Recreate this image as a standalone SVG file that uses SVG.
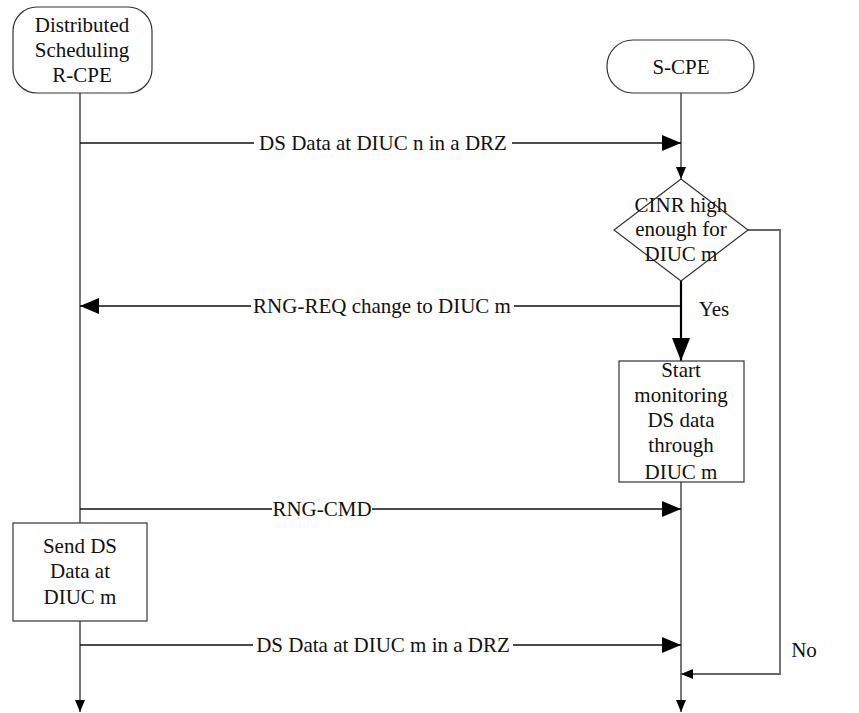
<svg xmlns="http://www.w3.org/2000/svg" width="859" height="713" viewBox="0 0 859 713">
  <defs>
    <marker id="arrow-big" viewBox="0 0 19 16" refX="19" refY="8" markerWidth="19" markerHeight="16" markerUnits="userSpaceOnUse" orient="auto">
      <path d="M0,0 L19,8 L0,16 Z" fill="#000000"/>
    </marker>
    <marker id="arrow-small" viewBox="0 0 12 10" refX="12" refY="5" markerWidth="12" markerHeight="10" markerUnits="userSpaceOnUse" orient="auto">
      <path d="M0,0 L12,5 L0,10 Z" fill="#000000"/>
    </marker>
    <marker id="arrow-yes" viewBox="0 0 23 18" refX="23" refY="9" markerWidth="23" markerHeight="18" markerUnits="userSpaceOnUse" orient="auto">
      <path d="M0,0 L23,9 L0,18 Z" fill="#000000"/>
    </marker>
  </defs>

  <rect width="859" height="713" fill="#ffffff"/>

  <!-- lifelines, messages and flow lines -->
  <g id="connectors" fill="none">
    <!-- lifelines -->
    <g stroke="#555555" stroke-width="1.6">
      <line x1="80" y1="93" x2="80" y2="523"/>
      <line x1="80" y1="621" x2="80" y2="712" marker-end="url(#arrow-small)"/>
      <line x1="681" y1="93" x2="681" y2="179" marker-end="url(#arrow-small)"/>
      <line x1="681" y1="482" x2="681" y2="712" marker-end="url(#arrow-small)"/>
    </g>

    <!-- messages -->
    <g stroke="#111111" stroke-width="1.5">
      <line x1="80" y1="143" x2="681" y2="143" marker-end="url(#arrow-big)"/>
      <line x1="681" y1="306" x2="80" y2="306" marker-end="url(#arrow-big)"/>
      <line x1="80" y1="509" x2="681" y2="509" marker-end="url(#arrow-big)"/>
      <line x1="80" y1="645" x2="681" y2="645" marker-end="url(#arrow-big)"/>
    </g>

    <!-- Yes branch -->
    <line x1="681" y1="281" x2="681" y2="361" stroke="#000000" stroke-width="2.2" marker-end="url(#arrow-yes)"/>

    <!-- No branch -->
    <polyline points="748,230 780,230 780,674 681,674" stroke="#666666" stroke-width="1.8" marker-end="url(#arrow-small)"/>

    <!-- message labels -->
    <g fill="#ffffff" stroke="none">
      <rect x="254" y="132" width="258" height="22"/>
      <rect x="251" y="295" width="263" height="22"/>
      <rect x="272" y="498" width="100" height="22"/>
      <rect x="253" y="634" width="260" height="22"/>
    </g>
    <text x="383" y="150" font-family="Liberation Serif" font-size="21" text-anchor="middle" fill="#111111" style="font-family:'Liberation Serif',serif !important">DS Data at DIUC n in a DRZ</text>
    <text x="382" y="313" font-family="Liberation Serif" font-size="21" text-anchor="middle" fill="#111111" style="font-family:'Liberation Serif',serif !important">RNG-REQ change to DIUC m</text>
    <text x="322" y="516" font-family="Liberation Serif" font-size="21" text-anchor="middle" fill="#111111" style="font-family:'Liberation Serif',serif !important">RNG-CMD</text>
    <text x="383" y="652" font-family="Liberation Serif" font-size="21" text-anchor="middle" fill="#111111" style="font-family:'Liberation Serif',serif !important">DS Data at DIUC m in a DRZ</text>
    <text x="714" y="316" font-family="Liberation Serif" font-size="21" text-anchor="middle" fill="#111111" style="font-family:'Liberation Serif',serif !important">Yes</text>
    <text x="804" y="657" font-family="Liberation Serif" font-size="21" text-anchor="middle" fill="#111111" style="font-family:'Liberation Serif',serif !important">No</text>
  </g>

  <g id="r-cpe">
    <rect x="13" y="7" width="139" height="86" rx="24" ry="24" fill="#ffffff" stroke="#333333" stroke-width="1.2"/>
    <text x="82" y="32" font-family="Liberation Serif" font-size="21" text-anchor="middle" fill="#111111" style="font-family:'Liberation Serif',serif !important">Distributed</text>
    <text x="82" y="57" font-family="Liberation Serif" font-size="21" text-anchor="middle" fill="#111111" style="font-family:'Liberation Serif',serif !important">Scheduling</text>
    <text x="82" y="82" font-family="Liberation Serif" font-size="21" text-anchor="middle" fill="#111111" style="font-family:'Liberation Serif',serif !important">R-CPE</text>
  </g>

  <g id="s-cpe">
    <rect x="607" y="40" width="147" height="53" rx="26" ry="26" fill="#ffffff" stroke="#333333" stroke-width="1.2"/>
    <text x="681" y="74" font-family="Liberation Serif" font-size="21" text-anchor="middle" fill="#111111" style="font-family:'Liberation Serif',serif !important">S-CPE</text>
  </g>

  <g id="cinr-check">
    <polygon points="681,179 748,230 681,281 614,230" fill="#ffffff" stroke="#333333" stroke-width="1.2"/>
    <text x="681" y="212" font-family="Liberation Serif" font-size="21" text-anchor="middle" fill="#111111" style="font-family:'Liberation Serif',serif !important">CINR high</text>
    <text x="681" y="236" font-family="Liberation Serif" font-size="21" text-anchor="middle" fill="#111111" style="font-family:'Liberation Serif',serif !important">enough for</text>
    <text x="681" y="261" font-family="Liberation Serif" font-size="21" text-anchor="middle" fill="#111111" style="font-family:'Liberation Serif',serif !important">DIUC m</text>
  </g>

  <g id="start-monitoring">
    <rect x="619" y="361" width="125" height="121" fill="#ffffff" stroke="#333333" stroke-width="1.2"/>
    <text x="681" y="377" font-family="Liberation Serif" font-size="21" text-anchor="middle" fill="#111111" style="font-family:'Liberation Serif',serif !important">Start</text>
    <text x="681" y="402" font-family="Liberation Serif" font-size="21" text-anchor="middle" fill="#111111" style="font-family:'Liberation Serif',serif !important">monitoring</text>
    <text x="681" y="427" font-family="Liberation Serif" font-size="21" text-anchor="middle" fill="#111111" style="font-family:'Liberation Serif',serif !important">DS data</text>
    <text x="681" y="452" font-family="Liberation Serif" font-size="21" text-anchor="middle" fill="#111111" style="font-family:'Liberation Serif',serif !important">through</text>
    <text x="681" y="479" font-family="Liberation Serif" font-size="21" text-anchor="middle" fill="#111111" style="font-family:'Liberation Serif',serif !important">DIUC m</text>
  </g>

  <g id="send-ds">
    <rect x="13" y="523" width="134" height="98" fill="#ffffff" stroke="#333333" stroke-width="1.2"/>
    <text x="80" y="553" font-family="Liberation Serif" font-size="21" text-anchor="middle" fill="#111111" style="font-family:'Liberation Serif',serif !important">Send DS</text>
    <text x="80" y="578" font-family="Liberation Serif" font-size="21" text-anchor="middle" fill="#111111" style="font-family:'Liberation Serif',serif !important">Data at</text>
    <text x="80" y="604" font-family="Liberation Serif" font-size="21" text-anchor="middle" fill="#111111" style="font-family:'Liberation Serif',serif !important">DIUC m</text>
  </g>
</svg>
